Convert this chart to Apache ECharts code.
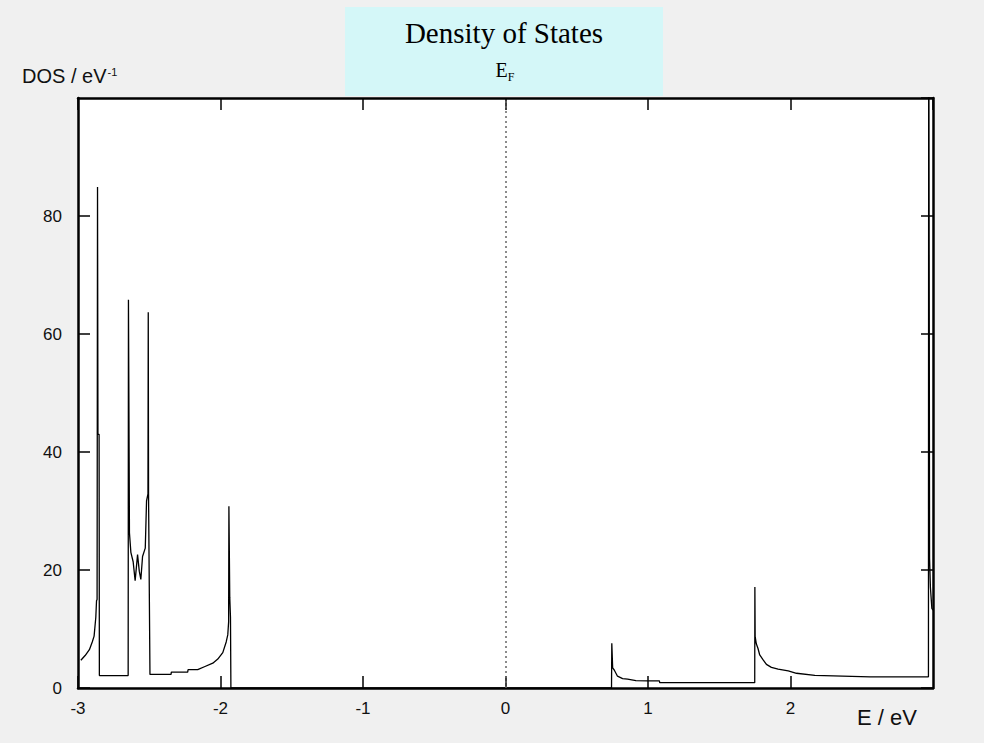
<!DOCTYPE html>
<html lang="en">
<head>
<meta charset="UTF-8" />
<title>Density of States</title>
<script src="https://cdn.jsdelivr.net/npm/echarts@6/dist/echarts.min.js"></script>
<style>
  html, body { margin: 0; padding: 0; background: #f0f0f0; }
  #main { width: 984px; height: 743px; }
</style>
</head>
<body>
<div id="main"></div>
<script type="text/javascript">
// energies (eV) and DOS values (1/eV)
var energy = [
  -2.98, -2.95, -2.92, -2.90, -2.887, -2.875, -2.870, -2.866, -2.863, -2.860, -2.852, -2.850,
  -2.648, -2.646, -2.641, -2.639, -2.629, -2.613, -2.599, -2.582, -2.570, -2.559, -2.547, -2.528,
  -2.519, -2.509, -2.507, -2.505, -2.495, -2.493,
  -2.347, -2.345, -2.230, -2.228, -2.160, -2.113, -2.054, -2.019, -1.984, -1.960, -1.949, -1.943,
  -1.941, -1.935, -1.930, -1.927,
  0.744, 0.746, 0.748, 0.752, 0.763, 0.786, 0.822, 0.857, 0.915, 0.998, 1.080, 1.082,
  1.749, 1.750, 1.752, 1.760, 1.772, 1.784, 1.808, 1.831, 1.866, 1.913, 1.984, 2.042,
  2.171, 2.559, 2.968, 2.970, 2.976, 2.982, 2.992, 3.000
];
var dos = [
  4.7, 5.5, 6.5, 7.8, 8.8, 12.0, 14.8, 15.0, 84.9, 43.0, 43.0, 2.1,
  2.1, 65.8, 38.3, 26.3, 23.0, 21.4, 18.2, 22.6, 19.8, 18.4, 22.3, 23.7,
  31.7, 32.9, 63.7, 32.9, 2.3, 2.3,
  2.3, 2.7, 2.7, 3.1, 3.1, 3.6, 4.2, 4.9, 6.0, 7.8, 9.0, 11.2,
  30.8, 15.4, 12.0, 0.0,
  0.0, 7.6, 6.2, 3.4, 3.05, 2.0, 1.6, 1.5, 1.25, 1.2, 1.2, 0.9,
  0.9, 17.1, 8.7, 7.5, 6.7, 5.6, 4.75, 4.0, 3.5, 3.2, 2.9, 2.5,
  2.15, 1.9, 1.9, 130, 22.0, 17.0, 13.5, 13.2
];
var fermiLevel = 0;

var xTicks = { min: -3, max: 3, interval: 1 };
var yTicks = { min: 0, max: 100, interval: 20 };

var points = energy.map(function (e, i) { return [e, dos[i]]; });

var myChart = echarts.init(document.getElementById('main'), null, { renderer: 'svg' });

var labelFont = 'Liberation Sans';
var frameLine = { show: true, onZero: false, lineStyle: { color: '#000', width: 2.5 } };
var innerTick = { show: true, inside: true, length: 12, lineStyle: { color: '#000', width: 1.5 } };

var option = {
  backgroundColor: '#f0f0f0',
  animation: false,
  grid: {
    left: 78, right: 51, top: 98, bottom: 55,
    show: true, backgroundColor: '#fff', borderWidth: 0
  },
  xAxis: [
    {
      type: 'value', min: xTicks.min, max: xTicks.max, interval: xTicks.interval,
      position: 'bottom',
      axisLine: frameLine, axisTick: innerTick, splitLine: { show: false },
      axisLabel: { showMaxLabel: false, margin: 12, color: '#111', fontFamily: labelFont, fontSize: 17 }
    },
    {
      type: 'value', min: xTicks.min, max: xTicks.max, interval: xTicks.interval,
      position: 'top',
      axisLine: frameLine, axisTick: innerTick, splitLine: { show: false },
      axisLabel: { show: false }
    }
  ],
  yAxis: [
    {
      type: 'value', min: yTicks.min, max: yTicks.max, interval: yTicks.interval,
      position: 'left',
      axisLine: frameLine, axisTick: innerTick, splitLine: { show: false },
      axisLabel: { showMaxLabel: false, margin: 16, color: '#111', fontFamily: labelFont, fontSize: 17 }
    },
    {
      type: 'value', min: yTicks.min, max: yTicks.max, interval: yTicks.interval,
      position: 'right',
      axisLine: frameLine, axisTick: innerTick, splitLine: { show: false },
      axisLabel: { show: false }
    }
  ],
  graphic: [
    {
      type: 'rect', z: -10, left: 345, top: 7,
      shape: { width: 318, height: 89 },
      style: { fill: '#d4f7f8' }
    },
    {
      type: 'text', x: 504, y: 33,
      style: {
        text: 'Density of States', fill: '#000', align: 'center', verticalAlign: 'middle',
        font: '29px "Liberation Serif"'
      }
    },
    {
      type: 'text', x: 505, y: 70,
      style: {
        text: '{e|E}{f|F}', align: 'center', verticalAlign: 'middle',
        rich: {
          e: { fontFamily: 'Liberation Serif', fontSize: 20, fill: '#000', verticalAlign: 'bottom' },
          f: { fontFamily: 'Liberation Serif', fontSize: 12, fill: '#000', verticalAlign: 'bottom', padding: [0, 0, -3, 0] }
        }
      }
    },
    {
      type: 'text', left: 22, top: 66,
      style: {
        text: '{a|DOS / eV}{s|-1}',
        rich: {
          a: { fontFamily: labelFont, fontSize: 20, fill: '#111', verticalAlign: 'bottom' },
          s: { fontFamily: labelFont, fontSize: 11, fill: '#111', verticalAlign: 'top', padding: [0, 0, 6, 1] }
        }
      }
    },
    {
      type: 'text', left: 857, top: 706,
      style: { text: 'E / eV', fill: '#111', font: '22px "Liberation Sans"' }
    }
  ],
  series: [
    {
      type: 'line',
      data: points,
      showSymbol: false,
      clip: true,
      lineStyle: { color: '#000', width: 1.3 },
      markLine: {
        silent: true,
        symbol: 'none',
        label: { show: false },
        lineStyle: { color: '#666', width: 1.5, type: [2, 3] },
        data: [{ xAxis: fermiLevel }]
      }
    }
  ]
};

myChart.setOption(option);
</script>
</body>
</html>
